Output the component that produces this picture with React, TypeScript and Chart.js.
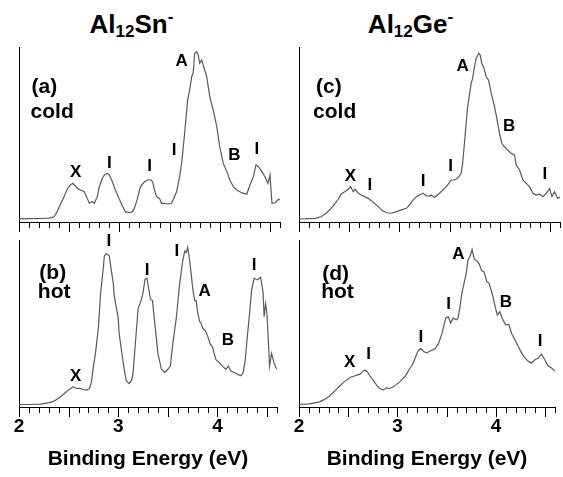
import React, { useEffect, useRef } from 'react';
import { Chart, registerables } from 'chart.js';

Chart.register(...registerables);

const FONT = '"Liberation Sans", Arial, Helvetica, sans-serif';

// ---- axis ----
const xMin = 2.0;
const xMax = 4.6;
const xStep = 0.1;
const xTickLabels = ['2', '3', '4'];
const xTitle = 'Binding Energy (eV)';

// ---- (a) Al12Sn- cold ----
const snColdE = [2.00, 2.10, 2.20, 2.30, 2.35, 2.38, 2.41, 2.45, 2.48, 2.51, 2.535, 2.56, 2.59, 2.63, 2.65, 2.68, 2.70, 2.73, 2.75, 2.78, 2.80, 2.83, 2.85, 2.88, 2.90, 2.93, 2.96, 3.00, 3.03, 3.06, 3.10, 3.13, 3.15, 3.18, 3.21, 3.25, 3.28, 3.32, 3.335, 3.35, 3.37, 3.40, 3.42, 3.45, 3.48, 3.52, 3.535, 3.57, 3.60, 3.62, 3.65, 3.68, 3.70, 3.72, 3.735, 3.75, 3.77, 3.785, 3.80, 3.82, 3.835, 3.87, 3.90, 3.935, 3.97, 4.00, 4.035, 4.07, 4.10, 4.135, 4.17, 4.20, 4.235, 4.27, 4.30, 4.335, 4.36, 4.385, 4.42, 4.45, 4.48, 4.50, 4.52, 4.55, 4.585, 4.60];
const snColdI = [1.8, 1.9, 2.0, 2.2, 3.0, 5.9, 9.7, 14.5, 18.7, 21.1, 22.1, 20.6, 18.9, 17.9, 17.3, 13.5, 10.7, 11.6, 10.7, 14.5, 20.2, 25.0, 26.9, 27.8, 26.9, 23.0, 18.3, 13.0, 9.1, 5.9, 5.3, 5.9, 7.8, 13.5, 20.2, 23.0, 24.0, 24.0, 22.0, 18.3, 14.5, 13.5, 10.7, 10.7, 10.3, 10.7, 12.6, 17.3, 25.9, 33.5, 50.7, 69.7, 75.4, 83.0, 85.0, 96.4, 97.3, 95.4, 90.7, 92.6, 89.7, 83.0, 71.6, 64.0, 54.5, 43.0, 33.5, 28.8, 24.0, 20.2, 18.3, 17.3, 16.4, 16.0, 21.1, 25.9, 32.6, 31.6, 28.8, 25.9, 22.1, 26.9, 10.7, 11.0, 13.0, 12.6];

// ---- (b) Al12Sn- hot ----
const snHotE = [2.00, 2.10, 2.22, 2.29, 2.35, 2.41, 2.46, 2.51, 2.545, 2.58, 2.61, 2.65, 2.68, 2.71, 2.73, 2.75, 2.77, 2.80, 2.82, 2.85, 2.86, 2.88, 2.90, 2.91, 2.93, 2.95, 2.96, 3.00, 3.01, 3.05, 3.08, 3.11, 3.135, 3.15, 3.18, 3.20, 3.23, 3.25, 3.27, 3.29, 3.30, 3.325, 3.345, 3.37, 3.40, 3.435, 3.47, 3.50, 3.525, 3.55, 3.585, 3.62, 3.65, 3.67, 3.685, 3.70, 3.72, 3.735, 3.75, 3.77, 3.785, 3.80, 3.82, 3.835, 3.85, 3.88, 3.90, 3.925, 3.95, 3.97, 3.985, 4.02, 4.05, 4.085, 4.11, 4.135, 4.17, 4.20, 4.235, 4.26, 4.28, 4.30, 4.325, 4.345, 4.37, 4.40, 4.435, 4.46, 4.47, 4.485, 4.50, 4.525, 4.545, 4.57, 4.59, 4.60];
const snHotI = [1.5, 1.5, 1.7, 2.5, 3.4, 5.7, 8.2, 10.7, 12.0, 11.1, 11.1, 10.5, 10.1, 11.1, 14.9, 24.5, 32.0, 47.4, 66.5, 83.7, 90.4, 91.8, 91.0, 90.4, 81.8, 74.2, 66.5, 53.2, 43.6, 26.4, 15.9, 14.0, 15.9, 20.7, 43.6, 58.9, 63.7, 68.5, 76.5, 77.1, 73.2, 64.6, 63.7, 49.3, 32.1, 22.6, 20.7, 22.6, 24.5, 37.9, 53.2, 74.2, 87.6, 93.3, 92.4, 95.6, 87.6, 79.9, 71.3, 63.7, 63.7, 57.0, 51.2, 50.3, 47.4, 45.5, 42.6, 37.9, 35.9, 31.2, 28.3, 26.4, 24.5, 22.6, 24.5, 21.6, 20.7, 19.7, 18.7, 20.7, 28.3, 41.7, 57.0, 70.4, 77.1, 76.1, 77.6, 68.5, 54.1, 61.8, 55.1, 24.5, 32.1, 26.4, 23.5, 22.6];

// ---- (c) Al12Ge- cold ----
const geColdE = [2.00, 2.16, 2.22, 2.27, 2.32, 2.36, 2.39, 2.42, 2.455, 2.49, 2.515, 2.54, 2.56, 2.59, 2.62, 2.655, 2.69, 2.72, 2.75, 2.79, 2.83, 2.87, 2.92, 2.97, 3.02, 3.07, 3.10, 3.137, 3.17, 3.20, 3.237, 3.27, 3.30, 3.316, 3.35, 3.38, 3.416, 3.45, 3.48, 3.516, 3.55, 3.58, 3.615, 3.63, 3.648, 3.665, 3.68, 3.70, 3.715, 3.73, 3.748, 3.765, 3.79, 3.805, 3.82, 3.838, 3.865, 3.888, 3.915, 3.948, 3.98, 3.997, 4.02, 4.047, 4.08, 4.114, 4.147, 4.163, 4.197, 4.23, 4.263, 4.296, 4.33, 4.363, 4.396, 4.43, 4.462, 4.496, 4.52, 4.545, 4.578, 4.60];
const geColdI = [1.7, 2.1, 3.0, 5.0, 7.8, 10.7, 13.0, 16.0, 17.3, 18.7, 20.2, 17.3, 18.7, 16.4, 15.4, 14.5, 13.5, 12.2, 10.7, 8.8, 6.5, 5.3, 5.0, 5.9, 6.9, 7.8, 9.7, 12.6, 14.5, 15.4, 16.4, 14.9, 14.8, 15.4, 14.1, 15.4, 17.3, 19.2, 21.1, 24.0, 24.0, 25.0, 27.8, 33.5, 45.0, 56.4, 65.9, 73.5, 79.2, 82.1, 88.8, 93.5, 96.4, 95.4, 90.7, 88.8, 83.0, 81.1, 73.5, 65.9, 56.4, 50.7, 45.0, 43.0, 41.1, 39.2, 38.3, 32.6, 29.7, 24.0, 22.1, 20.2, 16.4, 15.4, 16.0, 14.5, 16.4, 19.2, 14.5, 17.3, 13.5, 14.3];

// ---- (d) Al12Ge- hot ----
const geHotE = [2.00, 2.107, 2.21, 2.256, 2.306, 2.356, 2.405, 2.455, 2.49, 2.522, 2.555, 2.588, 2.62, 2.655, 2.672, 2.695, 2.72, 2.755, 2.79, 2.82, 2.854, 2.887, 2.92, 2.954, 2.987, 3.02, 3.053, 3.087, 3.12, 3.153, 3.186, 3.213, 3.236, 3.27, 3.30, 3.316, 3.35, 3.383, 3.416, 3.45, 3.466, 3.49, 3.516, 3.54, 3.565, 3.60, 3.615, 3.632, 3.655, 3.68, 3.698, 3.715, 3.738, 3.758, 3.78, 3.805, 3.83, 3.854, 3.88, 3.908, 3.93, 3.964, 3.997, 4.014, 4.04, 4.064, 4.097, 4.13, 4.163, 4.197, 4.23, 4.263, 4.296, 4.33, 4.363, 4.396, 4.43, 4.462, 4.496, 4.53, 4.562, 4.60];
const geHotI = [1.5, 1.9, 3.1, 4.4, 6.3, 9.2, 12.0, 14.9, 16.4, 17.8, 18.4, 19.1, 19.7, 21.6, 22.2, 21.0, 18.7, 15.9, 13.0, 11.1, 10.1, 11.5, 11.1, 12.0, 13.4, 14.9, 16.8, 19.1, 22.6, 25.4, 30.2, 34.0, 35.0, 33.1, 32.5, 33.1, 34.0, 35.0, 37.9, 43.6, 47.4, 53.2, 54.1, 50.3, 53.2, 52.2, 53.2, 58.9, 68.5, 75.1, 79.9, 87.6, 90.4, 94.3, 88.5, 87.6, 85.7, 81.8, 80.9, 75.1, 74.2, 67.5, 58.9, 55.1, 57.0, 53.2, 49.3, 49.3, 43.6, 39.8, 35.9, 32.1, 29.3, 27.3, 26.4, 28.3, 29.3, 31.7, 28.3, 24.5, 23.5, 21.6];

// ---- peak annotations (energy, intensity) ----
const snColdPeaks = [
  { t: 'X', x: 2.565, y: 28.4 }, { t: 'I', x: 2.90, y: 33.3 }, { t: 'I', x: 3.30, y: 32.0 },
  { t: 'I', x: 3.545, y: 41.0 }, { t: 'A', x: 3.62, y: 91.6 }, { t: 'B', x: 4.145, y: 38.3 }, { t: 'I', x: 4.37, y: 41.5 },
];
const snHotPeaks = [
  { t: 'X', x: 2.57, y: 18.1 }, { t: 'I', x: 2.905, y: 99.0 }, { t: 'I', x: 3.29, y: 81.9 },
  { t: 'I', x: 3.59, y: 93.0 }, { t: 'A', x: 3.87, y: 69.5 }, { t: 'B', x: 4.105, y: 40.0 }, { t: 'I', x: 4.37, y: 85.0 },
];
const geColdPeaks = [
  { t: 'X', x: 2.512, y: 25.9 }, { t: 'I', x: 2.705, y: 20.7 }, { t: 'I', x: 3.236, y: 23.4 },
  { t: 'I', x: 3.51, y: 31.6 }, { t: 'A', x: 3.63, y: 88.8 }, { t: 'B', x: 4.094, y: 54.5 }, { t: 'I', x: 4.45, y: 27.4 },
];
const geHotPeaks = [
  { t: 'X', x: 2.515, y: 26.7 }, { t: 'I', x: 2.708, y: 31.4 }, { t: 'I', x: 3.237, y: 41.9 },
  { t: 'I', x: 3.52, y: 61.5 }, { t: 'A', x: 3.62, y: 91.4 }, { t: 'B', x: 4.10, y: 62.9 }, { t: 'I', x: 4.45, y: 39.4 },
];

// ---- panel tags ----
const tagA = [{ t: '(a)', x: 2.125, y: 73.5 }, { t: 'cold', x: 2.115, y: 59.6 }];
const tagB = [{ t: '(b)', x: 2.205, y: 76.4 }, { t: 'hot', x: 2.19, y: 65.5 }];
const tagC = [{ t: '(c)', x: 2.17, y: 73.5 }, { t: 'cold', x: 2.14, y: 59.6 }];
const tagD = [{ t: '(d)', x: 2.235, y: 76.0 }, { t: 'hot', x: 2.225, y: 65.5 }];

type Lbl = { t: string; x: number; y: number };

function makeDecor(peaks: Lbl[], tags: Lbl[]) {
  return {
    id: 'decor',
    afterDraw(chart: any) {
      const { ctx, chartArea } = chart;
      const xs = chart.scales.x;
      const ys = chart.scales.y;
      ctx.save();
      ctx.strokeStyle = '#000';
      ctx.lineWidth = 1;
      xs.ticks.forEach((tk: any) => {
        const px = Math.round(xs.getPixelForValue(tk.value)) + 0.5;
        const major = Math.abs(tk.value * 2 - Math.round(tk.value * 2)) < 1e-6;
        const len = major ? 10 : 6;
        ctx.beginPath();
        ctx.moveTo(px, chartArea.bottom);
        ctx.lineTo(px, chartArea.bottom + len);
        ctx.stroke();
      });
      ctx.fillStyle = '#000';
      ctx.font = `bold 17px ${FONT}`;
      ctx.textAlign = 'center';
      ctx.textBaseline = 'middle';
      peaks.forEach((p) => ctx.fillText(p.t, xs.getPixelForValue(p.x), ys.getPixelForValue(p.y)));
      ctx.font = `bold 21px ${FONT}`;
      ctx.textAlign = 'left';
      ctx.textBaseline = 'alphabetic';
      tags.forEach((p) => ctx.fillText(p.t, xs.getPixelForValue(p.x), ys.getPixelForValue(p.y)));
      ctx.restore();
    },
  };
}

type PanelProps = {
  left: number; top: number; width: number; height: number;
  pad: { left: number; right: number; top: number; bottom: number };
  energies: number[]; intensity: number[]; peaks: Lbl[]; tags: Lbl[]; bottomAxis: boolean;
};

function Panel(p: PanelProps) {
  const ref = useRef<HTMLCanvasElement>(null);
  useEffect(() => {
    if (!ref.current) return;
    const chart = new Chart(ref.current, {
      type: 'line',
      data: {
        datasets: [{
          data: p.energies.map((x, i) => ({ x, y: p.intensity[i] })),
          borderColor: '#5a5a5a',
          borderWidth: 1.2,
          pointRadius: 0,
          tension: 0,
          fill: false,
        }],
      },
      options: {
        responsive: false,
        animation: false,
        layout: { padding: p.pad },
        plugins: { legend: { display: false }, tooltip: { enabled: false } },
        scales: {
          x: {
            type: 'linear',
            min: xMin,
            max: xMax,
            grid: { display: false, drawTicks: false },
            border: { display: true, color: '#000', width: 1 },
            ticks: {
              display: p.bottomAxis,
              stepSize: xStep,
              autoSkip: false,
              maxRotation: 0,
              padding: 8,
              color: '#000',
              font: { family: FONT, size: 19, weight: 'bold' },
              callback: (v: any) => {
                const n = Number(v);
                const lbl = String(Math.round(n));
                return Math.abs(n - Math.round(n)) < 1e-6 && xTickLabels.includes(lbl) ? lbl : '';
              },
            },
            title: {
              display: p.bottomAxis,
              text: xTitle,
              color: '#000',
              font: { family: FONT, size: 21, weight: 'bold' },
              padding: { top: 1, bottom: 4 },
            },
          },
          y: {
            min: 0,
            max: 100,
            grid: { display: false, drawTicks: false },
            border: { display: true, color: '#000', width: 1 },
            ticks: { display: false },
          },
        },
      } as any,
      plugins: [makeDecor(p.peaks, p.tags)],
    });
    return () => chart.destroy();
  }, []);
  return (
    <canvas
      ref={ref}
      width={p.width}
      height={p.height}
      style={{ position: 'absolute', left: p.left, top: p.top, width: p.width, height: p.height }}
    />
  );
}

function Title({ center, el }: { center: number; el: string }) {
  return (
    <div
      style={{
        position: 'absolute', left: center - 100, top: 11, width: 200, textAlign: 'center',
        fontFamily: FONT, fontWeight: 'bold', fontSize: 26, lineHeight: '26px', color: '#000',
      }}
    >
      Al<span style={{ fontSize: 17, position: 'relative', top: 4 }}>12</span>{el}
      <span style={{ fontSize: 17, position: 'relative', top: -11 }}>-</span>
    </div>
  );
}

export default function App() {
  const topPad = { left: 19, right: 5, top: 7, bottom: 10 };
  const botPad = { left: 19, right: 5, top: 8, bottom: 1 };
  const topPadR = { left: 17, right: 3, top: 7, bottom: 10 };
  const botPadR = { left: 17, right: 3, top: 8, bottom: 1 };
  return (
    <div style={{ position: 'absolute', left: 0, top: 0, width: 563, height: 477, background: '#fff', overflow: 'hidden' }}>
      <Title center={131.5} el="Sn" />
      <Title center={410.5} el="Ge" />
      <Panel left={0} top={40} width={285} height={192} pad={topPad} energies={snColdE} intensity={snColdI} peaks={snColdPeaks} tags={tagA} bottomAxis={false} />
      <Panel left={0} top={232} width={285} height={245} pad={botPad} energies={snHotE} intensity={snHotI} peaks={snHotPeaks} tags={tagB} bottomAxis={true} />
      <Panel left={282} top={40} width={281} height={192} pad={topPadR} energies={geColdE} intensity={geColdI} peaks={geColdPeaks} tags={tagC} bottomAxis={false} />
      <Panel left={282} top={232} width={281} height={245} pad={botPadR} energies={geHotE} intensity={geHotI} peaks={geHotPeaks} tags={tagD} bottomAxis={true} />
    </div>
  );
}
